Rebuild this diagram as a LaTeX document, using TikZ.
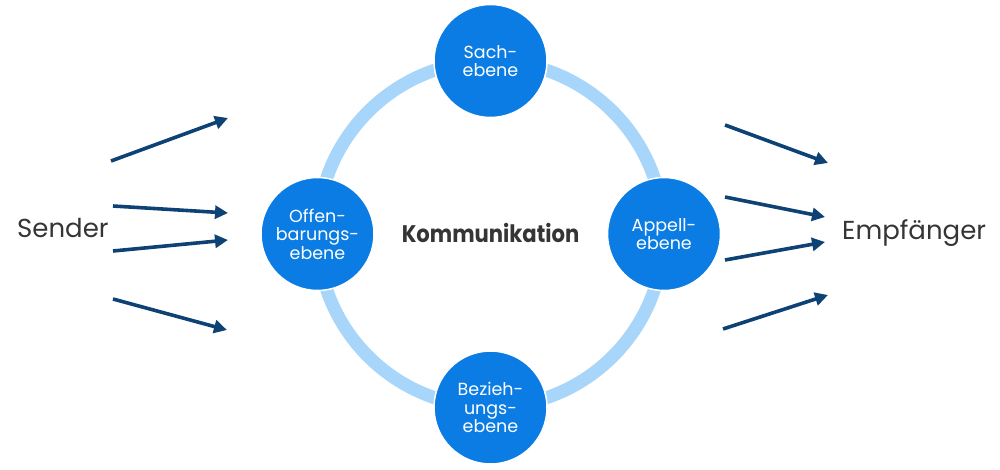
\documentclass[tikz,border=0pt]{standalone}
\usepackage{fontspec}
\setmainfont{Poppins}
\newfontfamily\kfont[FakeStretch=0.88]{Poppins}
\usetikzlibrary{arrows.meta}
\definecolor{ringblue}{HTML}{A8D5FA}
\definecolor{nodeblue}{HTML}{0A7CE3}
\definecolor{arrowblue}{HTML}{0E4275}
\definecolor{textgray}{HTML}{353535}
\begin{document}
\begin{tikzpicture}[x=1pt,y=-1pt,
  level/.style={circle, fill=nodeblue, draw=white, line width=1.5pt,
    minimum size=113pt, inner sep=0pt, text=white,
    font=\fontsize{17.5}{18.5}\selectfont, align=center},
  flow/.style={draw=arrowblue, line width=3.6pt,
    -{Triangle[length=13pt,width=13pt]}},
  side/.style={font=\fontsize{26}{30}\selectfont, text=textgray, inner sep=0pt},
  title/.style={font=\kfont\bfseries\fontsize{24}{28}\selectfont, text=textgray, inner sep=0pt}]
\useasboundingbox (0,0) rectangle (1000,470);
\coordinate (c) at (490.5,234);
\draw[ringblue, line width=13pt] (c) circle[radius=173];
\node[level] (sach) at (490.5,61) {Sach-\\ebene};
\node[level] (offen) at (317.5,234) {Offen-\\barungs-\\ebene};
\node[level] (appell) at (664,234) {Appell-\\ebene};
\node[level] (bez) at (490.5,407.5) {Bezieh-\\ungs-\\ebene};
\node[title, anchor=base] (komm) at (490.5,242) {Kommunikation};
\node[side, anchor=base west] (sender) at (17,237) {Sender};
\node[side, anchor=base west] (empf) at (842,240) {Empfänger};
% left arrows
\coordinate (l1a) at (111,161); \coordinate (l1b) at (228,118);
\coordinate (l2a) at (113,206); \coordinate (l2b) at (228,213);
\coordinate (l3a) at (113,251); \coordinate (l3b) at (228,240);
\coordinate (l4a) at (113,299); \coordinate (l4b) at (227,330);
\draw[flow] (l1a) -- (l1b);
\draw[flow] (l2a) -- (l2b);
\draw[flow] (l3a) -- (l3b);
\draw[flow] (l4a) -- (l4b);
% right arrows
\coordinate (r1a) at (725,125); \coordinate (r1b) at (828,163);
\coordinate (r2a) at (725,197); \coordinate (r2b) at (825,217);
\coordinate (r3a) at (725,260); \coordinate (r3b) at (825,242);
\coordinate (r4a) at (723,329); \coordinate (r4b) at (828,295);
\draw[flow] (r1a) -- (r1b);
\draw[flow] (r2a) -- (r2b);
\draw[flow] (r3a) -- (r3b);
\draw[flow] (r4a) -- (r4b);
\end{tikzpicture}
\end{document}
